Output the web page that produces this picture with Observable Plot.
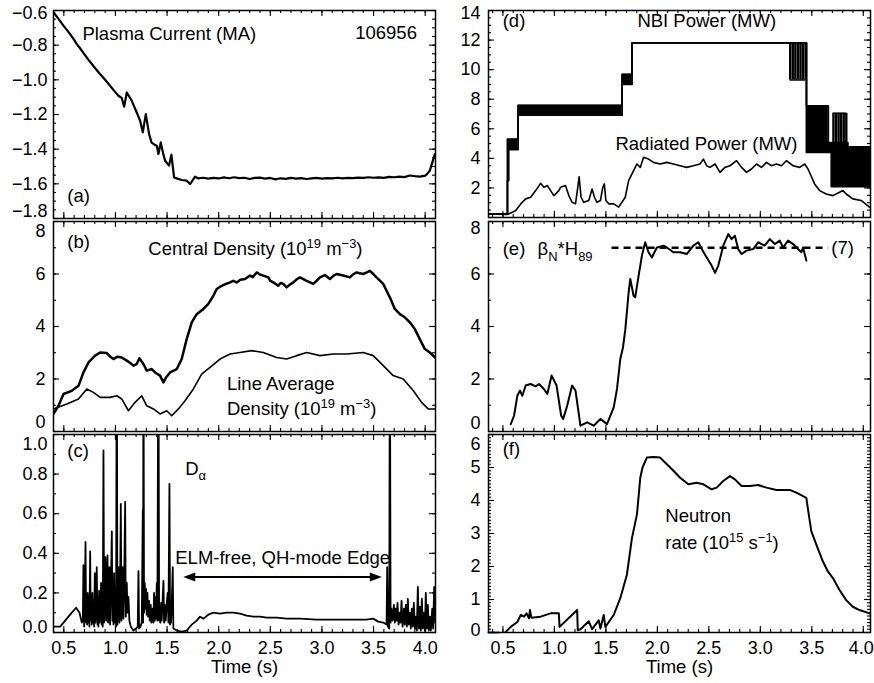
<!DOCTYPE html>
<html><head><meta charset="utf-8">
<script src="https://cdn.jsdelivr.net/npm/d3@7"></script>
<script src="https://cdn.jsdelivr.net/npm/@observablehq/plot@0.6"></script>
<style>
html,body{margin:0;padding:0;background:#fff;}
#fig{position:relative;width:874px;height:683px;background:#fff;}
#fig svg{position:absolute;left:0;top:0;}
</style></head><body><div id="fig"></div>
<script>
// ---------------- DATA ----------------
// (a) plasma current (MA)
const ipT = [0.40,0.45,0.50,0.55,0.60,0.626,0.65,0.70,0.75,0.80,0.85,0.90,0.948,0.99,1.029,1.061,1.084,1.110,1.158,1.20,1.239,1.265,1.294,1.326,1.35,1.368,1.40,1.416,1.439,1.46,1.481,1.519,1.542,1.568,1.60,1.642,1.69,1.723,1.771,1.80,1.85,1.90,1.95,2.00,2.05,2.10,2.15,2.20,2.25,2.30,2.35,2.40,2.45,2.50,2.55,2.60,2.65,2.70,2.75,2.80,2.85,2.90,2.95,3.00,3.05,3.10,3.15,3.20,3.25,3.30,3.35,3.40,3.45,3.50,3.55,3.60,3.65,3.70,3.75,3.80,3.85,3.90,3.95,4.00,4.013,4.045,4.094];
const ipV = [-0.610,-0.650,-0.690,-0.728,-0.770,-0.794,-0.812,-0.853,-0.893,-0.930,-0.966,-1.000,-1.034,-1.065,-1.092,-1.105,-1.155,-1.073,-1.121,-1.180,-1.236,-1.303,-1.198,-1.313,-1.362,-1.370,-1.380,-1.428,-1.361,-1.420,-1.467,-1.495,-1.432,-1.563,-1.570,-1.578,-1.582,-1.601,-1.559,-1.568,-1.565,-1.570,-1.566,-1.569,-1.563,-1.568,-1.562,-1.567,-1.565,-1.572,-1.566,-1.564,-1.570,-1.566,-1.574,-1.568,-1.571,-1.566,-1.570,-1.567,-1.572,-1.568,-1.566,-1.570,-1.567,-1.569,-1.565,-1.568,-1.566,-1.567,-1.564,-1.566,-1.562,-1.565,-1.563,-1.566,-1.560,-1.562,-1.558,-1.561,-1.552,-1.556,-1.558,-1.553,-1.547,-1.524,-1.428];

// (b) central density and line average density (1e19 m^-3)
const neT = [0.40,0.448,0.497,0.577,0.642,0.69,0.739,0.803,0.852,0.916,0.95,0.981,1.02,1.061,1.11,1.14,1.174,1.206,1.232,1.271,1.303,1.352,1.384,1.432,1.465,1.49,1.529,1.594,1.642,1.69,1.739,1.787,1.852,1.90,1.948,1.981,2.029,2.07,2.11,2.14,2.174,2.21,2.255,2.303,2.33,2.368,2.40,2.432,2.481,2.50,2.529,2.577,2.60,2.626,2.658,2.69,2.723,2.757,2.787,2.852,2.916,2.95,2.981,3.029,3.077,3.11,3.142,3.206,3.271,3.30,3.335,3.40,3.43,3.465,3.497,3.529,3.594,3.658,3.706,3.755,3.803,3.852,3.90,3.948,3.997,4.045,4.094];
const neV = [0.67,0.98,1.43,1.55,1.74,2.25,2.63,2.89,3.01,2.99,2.85,2.76,2.85,2.82,2.70,2.62,2.51,2.57,2.79,2.57,2.32,2.38,2.25,2.13,1.87,2.06,2.25,2.38,2.76,3.52,4.16,4.47,4.67,4.86,5.17,5.43,5.55,5.62,5.68,5.74,5.68,5.78,5.81,5.94,5.88,6.06,5.98,5.94,5.87,5.74,5.68,5.55,5.66,5.62,5.49,5.60,5.68,5.80,5.87,5.74,5.62,5.75,5.87,5.96,5.81,5.93,6.00,5.94,5.87,5.98,6.06,6.00,6.05,6.12,6.00,5.87,5.62,5.11,4.67,4.47,4.35,4.16,3.90,3.52,3.14,3.01,2.82];
const nlT = [0.40,0.529,0.642,0.723,0.787,0.852,0.948,1.013,1.061,1.126,1.19,1.255,1.303,1.368,1.432,1.497,1.545,1.61,1.674,1.755,1.835,1.916,2.013,2.11,2.206,2.319,2.432,2.561,2.658,2.755,2.852,2.981,3.11,3.239,3.40,3.497,3.594,3.69,3.787,3.884,3.965,4.029,4.094];
const nlV = [0.86,1.05,1.24,1.62,1.49,1.30,1.30,1.36,1.24,0.79,1.11,1.36,0.98,0.86,0.67,0.79,0.60,0.86,1.17,1.62,2.19,2.44,2.76,2.95,3.01,3.08,3.01,2.82,2.76,2.89,3.01,2.89,2.95,2.95,3.01,2.89,2.51,2.13,2.00,1.56,1.11,0.86,0.86];

// (c) D-alpha (a.u.), spikes above 1.0 are off scale
const daT = [0.40,0.465,0.529,0.577,0.619,0.652,0.674,0.684,0.690,0.697,0.703,0.710,0.716,0.723,0.726,0.732,0.739,0.745,0.748,0.755,0.761,0.768,0.771,0.777,0.784,0.790,0.794,0.800,0.806,0.813,0.819,0.826,0.832,0.835,0.842,0.848,0.855,0.861,0.868,0.874,0.877,0.884,0.890,0.897,0.903,0.910,0.916,0.923,0.929,0.935,0.942,0.948,0.955,0.965,0.971,0.977,0.981,0.987,0.994,1.000,1.006,1.013,1.019,1.026,1.032,1.039,1.045,1.052,1.058,1.065,1.071,1.077,1.084,1.094,1.100,1.110,1.116,1.126,1.135,1.148,1.174,1.200,1.216,1.223,1.229,1.242,1.255,1.265,1.268,1.271,1.277,1.284,1.290,1.297,1.303,1.310,1.316,1.326,1.332,1.342,1.348,1.358,1.368,1.374,1.381,1.390,1.394,1.400,1.406,1.416,1.423,1.429,1.435,1.442,1.448,1.458,1.465,1.471,1.477,1.487,1.497,1.506,1.513,1.523,1.529,1.535,1.539,1.548,1.555,1.561,1.594,1.642,1.690,1.739,1.787,1.819,1.852,1.900,1.948,2.013,2.077,2.142,2.206,2.271,2.335,2.400,2.465,2.561,2.658,2.787,2.948,3.110,3.271,3.432,3.497,3.545,3.594,3.626,3.632,3.639,3.652,3.658,3.665,3.674,3.684,3.697,3.706,3.716,3.723,3.732,3.742,3.752,3.761,3.771,3.781,3.794,3.803,3.813,3.823,3.832,3.842,3.852,3.861,3.871,3.881,3.890,3.900,3.910,3.919,3.929,3.939,3.948,3.958,3.968,3.977,3.987,3.997,4.006,4.016,4.026,4.035,4.045,4.055,4.068,4.077,4.087,4.094];
const daV = [0.03,0.03,0.07,0.10,0.125,0.10,0.05,0.06,0.34,0.03,0.15,0.457,0.05,0.18,0.04,0.20,0.05,0.15,0.03,0.41,0.06,0.18,0.04,0.20,0.05,0.14,0.03,0.30,0.05,0.16,0.33,0.04,0.18,0.03,0.21,0.05,0.15,0.25,0.04,0.12,0.03,0.92,0.05,0.20,0.38,0.06,0.22,0.39,0.05,0.17,0.33,0.04,0.20,0.51,0.06,0.22,0.04,0.30,0.05,0.18,0.03,1.6,0.04,0.20,0.33,0.05,0.22,0.65,0.06,0.25,0.33,0.07,0.22,0.66,0.08,0.25,0.10,0.18,0.06,0.03,0.01,0.02,0.03,0.31,0.02,0.03,0.05,0.62,0.05,1.6,0.10,0.25,0.12,0.22,0.09,0.20,0.08,0.16,0.06,0.14,0.05,0.12,0.05,0.20,0.06,0.18,0.07,0.25,0.06,1.6,0.06,0.12,0.05,0.15,0.06,0.18,0.26,0.05,0.14,0.06,0.15,0.20,0.05,0.75,0.04,0.12,0.05,0.20,0.33,0.02,0.01,0.005,0.01,0.04,0.06,0.08,0.07,0.09,0.10,0.095,0.10,0.10,0.095,0.085,0.08,0.08,0.075,0.075,0.07,0.07,0.065,0.065,0.065,0.065,0.07,0.055,0.05,0.04,0.33,0.03,0.02,1.6,0.05,0.12,0.06,0.14,0.05,0.12,0.06,0.15,0.04,0.10,0.05,0.16,0.03,0.12,0.04,0.14,0.03,0.17,0.04,0.10,0.02,0.12,0.03,0.15,0.02,0.08,0.01,0.23,0.02,0.13,0.01,0.17,0.02,0.10,0.01,0.20,0.02,0.14,0.01,0.08,0.01,0.12,0.02,0.23,0.05];
const elmSpan = [1.657, 3.58];

// (d) NBI power (MW): modulated blocks (low/high envelope), and radiated power
const nbiT  = [0.36,0.544,0.556,0.647,1.657,1.754,3.448,3.66,3.69,3.85,4.07];
const nbiHi = [0.25,5.30,5.30,7.59,9.68,11.81,7.55,5.07,5.07,4.78,4.78];
const nbiLo = [0.25,2.50,4.60,6.92,9.00,11.81,4.40,4.40,2.09,2.09,2.09];
const nbiMod1T = [3.29,3.315,3.34,3.365,3.39,3.415,3.44];
const nbiMod1 = [9.3, 11.81];
const nbiMod2T = [3.71,3.735,3.76,3.785,3.81,3.835];
const nbiMod2 = [5.07, 7.05];
const prT = [0.366,0.45,0.543,0.592,0.624,0.673,0.721,0.769,0.818,0.866,0.898,0.931,0.963,0.995,1.043,1.060,1.108,1.140,1.172,1.205,1.227,1.24,1.259,1.285,1.334,1.366,1.389,1.414,1.447,1.47,1.485,1.50,1.53,1.576,1.624,1.656,1.688,1.721,1.769,1.802,1.834,1.866,1.914,1.963,2.027,2.092,2.156,2.221,2.285,2.350,2.414,2.447,2.479,2.511,2.560,2.608,2.656,2.705,2.769,2.818,2.866,2.914,2.963,3.011,3.060,3.108,3.156,3.205,3.253,3.318,3.382,3.431,3.463,3.527,3.576,3.640,3.705,3.769,3.802,3.834,3.898,3.979,4.060];
const prV = [0.25,0.22,0.20,0.36,0.47,0.92,1.26,1.37,1.82,2.31,2.04,2.16,1.82,1.48,1.82,2.04,2.16,1.48,1.03,0.92,2.04,2.76,1.37,1.03,1.15,1.93,1.37,1.03,1.15,2.04,2.27,1.15,0.92,0.92,0.70,1.03,1.37,2.49,3.17,3.62,3.39,4.07,3.95,3.73,3.62,3.73,3.62,3.50,3.39,3.50,3.62,3.95,3.50,3.39,3.62,3.05,3.39,3.50,3.84,3.39,3.05,3.28,3.62,3.39,3.73,3.50,3.62,3.50,3.84,3.50,3.39,3.62,3.28,2.27,1.82,1.59,1.48,1.71,1.82,1.59,1.26,1.15,0.70];

// (e) beta_N * H89
const bhT = [0.576,0.608,0.640,0.666,0.689,0.721,0.769,0.818,0.850,0.898,0.931,0.973,1.021,1.066,1.085,1.124,1.172,1.205,1.253,1.318,1.382,1.447,1.511,1.576,1.608,1.640,1.666,1.689,1.721,1.737,1.769,1.785,1.818,1.850,1.882,1.914,1.947,1.995,2.060,2.092,2.156,2.221,2.285,2.350,2.398,2.431,2.479,2.527,2.560,2.592,2.640,2.689,2.721,2.753,2.785,2.818,2.866,2.931,2.979,3.043,3.092,3.140,3.189,3.221,3.269,3.318,3.366,3.398,3.415,3.447];
const bhV = [0.28,0.60,1.36,1.56,1.36,1.75,1.81,1.72,1.81,1.62,1.43,2.13,1.75,0.60,0.48,0.98,1.75,1.56,0.22,0.35,0.22,0.48,0.28,0.92,1.62,2.76,3.20,3.90,5.30,5.81,5.17,5.11,5.94,6.70,7.21,6.83,6.63,7.01,7.08,7.01,6.83,6.83,6.76,7.08,7.21,6.95,6.63,6.32,6.04,6.32,7.08,7.52,7.33,7.46,6.95,6.76,6.89,6.95,7.21,7.08,7.33,7.14,7.27,7.01,7.27,7.14,6.95,6.83,7.01,6.51];
const bhRef = 7;
const bhRefSpan = [1.56, 3.66];

// (f) neutron rate (1e15 /s)
const snT = [0.527,0.576,0.640,0.673,0.705,0.73,0.753,0.763,0.776,0.866,0.963,1.043,1.050,1.221,1.227,1.253,1.334,1.366,1.43,1.447,1.479,1.495,1.576,1.640,1.704,1.753,1.802,1.834,1.856,1.898,1.963,2.027,2.092,2.156,2.221,2.301,2.382,2.447,2.527,2.576,2.640,2.705,2.753,2.818,2.898,2.979,3.060,3.156,3.285,3.350,3.415,3.447,3.463,3.495,3.544,3.608,3.656,3.705,3.769,3.834,3.898,3.963,4.060];
const snV = [0.02,0.17,0.32,0.53,0.48,0.58,0.43,0.68,0.45,0.48,0.58,0.58,0.17,0.68,0.07,0.10,0.34,0.10,0.37,0.12,0.53,0.17,0.53,1.04,1.75,2.86,3.58,4.69,5.00,5.30,5.32,5.30,5.10,4.90,4.69,4.49,4.54,4.49,4.34,4.39,4.59,4.74,4.64,4.44,4.44,4.47,4.39,4.32,4.32,4.24,4.13,4.08,3.73,3.07,2.66,2.15,1.85,1.65,1.29,0.98,0.78,0.68,0.58];
const snPreT = [0.36,0.46];
const snPreV = [0,0];

// ticks
const xMajor = [0.5,1.0,1.5,2.0,2.5,3.0,3.5,4.0];
const xMinor = d3.range(4, 41).map(d => d / 10);
const aLabels = [-1.8,-1.6,-1.4,-1.2,-1.0,-0.8,-0.6];
const bLabels = [0,2,4,6,8];
const cLabels = [0.0,0.2,0.4,0.6,0.8,1.0];
const dLabels = [2,4,6,8,10,12,14];
const eLabels = [0,2,4,6,8];
const fLabels = [0,1,2,3,4,5,6];

// ---------------- DRAWING ----------------
const W = 874, H = 683;
const FONT = "'Liberation Sans', Arial, Helvetica, sans-serif";
const FS = 18.5;
const TFS = 18;
const fig = document.getElementById("fig");
const style = {fontFamily: FONT, fontSize: TFS + "px", background: "transparent", overflow: "visible", color: "black"};
const zip = (T, V) => T.map((t, i) => ({t, v: V[i]}));
const F1 = d3.format(".1f");

function richify(svg) {
  const NS = "http://www.w3.org/2000/svg";
  svg.querySelectorAll("text").forEach(t => {
    const s = t.textContent;
    if (!/[\^_]\{/.test(s)) return;
    while (t.firstChild) t.removeChild(t.firstChild);
    const fs = FS;
    let cur = 0;
    const add = (str, shift, small) => {
      const sp = document.createElementNS(NS, "tspan");
      sp.textContent = str;
      sp.setAttribute("dy", (shift - cur) + "px");
      if (small) sp.setAttribute("font-size", (fs * 0.7) + "px");
      cur = shift;
      t.appendChild(sp);
    };
    const re = /([\^_])\{([^}]*)\}/g; let last = 0, m;
    while ((m = re.exec(s))) {
      if (m.index > last) add(s.slice(last, m.index), 0, false);
      add(m[2], m[1] === "^" ? -fs * 0.38 : fs * 0.3, true);
      last = re.lastIndex;
    }
    if (last < s.length) add(s.slice(last), 0, false);
  });
}

function label(str, x, y, anchor = "start") {
  return Plot.text([str], {x, y, text: d => d, textAnchor: anchor, fontSize: FS, fill: "black"});
}

function panel(o) {
  const fh = o.bottom - o.top, fw = o.right - o.left;
  const TM = 6, Tm = 3;
  const tk = {stroke: "black", strokeWidth: 1.1};
  const ticks = [];
  for (const [arr, len] of [[xMinor, Tm], [xMajor, TM]]) {
    ticks.push(Plot.tickX(arr, {x: d => d, insetTop: fh - len, ...tk}));
    ticks.push(Plot.tickX(arr, {x: d => d, insetBottom: fh - len, ...tk}));
  }
  for (const [arr, len] of [[o.yMinor, Tm], [o.yLabels, TM]]) {
    ticks.push(Plot.tickY(arr, {y: d => d, insetRight: fw - len, ...tk}));
    ticks.push(Plot.tickY(arr, {y: d => d, insetLeft: fw - len, ...tk}));
  }
  const L = o.yLabels, n = L.length;
  const ax = (vals, dy) => Plot.text(vals, {y: d => d, frameAnchor: "left", dx: -o.pad, dy, textAnchor: "end", lineAnchor: "middle", text: o.fmt, fontSize: TFS, fill: "black"});
  const axes = [ax(L.slice(1, n - 1), 0), ax([L[0]], o.dyBottom || 0), ax([L[n - 1]], o.dyTop || 0)];
  if (o.xAxis) {
    const xl = (vals, dx) => Plot.text(vals, {x: d => d, frameAnchor: "bottom", dy: 16, dx, lineAnchor: "middle", text: F1, fontSize: TFS, fill: "black"});
    axes.push(xl(xMajor.slice(0, -1), 0), xl(xMajor.slice(-1), o.lastDx || 0));
    axes.push(Plot.text(["Time (s)"], {frameAnchor: "bottom", dy: 35, lineAnchor: "middle", text: d => d, fontSize: FS, fill: "black"}));
  }
  const svg = Plot.plot({
    width: W, height: H,
    marginLeft: o.left, marginRight: W - o.right, marginTop: o.top, marginBottom: H - o.bottom,
    x: {domain: o.xDomain, axis: null},
    y: {domain: o.yDomain, axis: null},
    style,
    marks: [...o.marks, ...ticks, ...axes, Plot.frame({stroke: "black", strokeWidth: 1.5})]
  });
  richify(svg);
  fig.append(svg);
}

const LX = [0.4, 4.1], RX = [0.36, 4.07];
const arrowHead = {draw(ctx) { ctx.moveTo(0, 0); ctx.lineTo(-12, -4.5); ctx.lineTo(-12, 4.5); ctx.closePath(); }};

// (a)
panel({left: 53, right: 435, top: 10, bottom: 218, xDomain: LX, yDomain: [-1.8, -0.6],
  yLabels: aLabels, yMinor: d3.range(-36, -11).map(d => d / 20), fmt: F1, pad: 6, dyTop: 3, dyBottom: -7,
  marks: [
    Plot.line(zip(ipT, ipV), {x: "t", y: "v", stroke: "black", strokeWidth: 2.2, clip: true}),
    label("Plasma Current (MA)", 0.68, -0.735),
    label("106956", 3.92, -0.73, "end"),
    label("(a)", 0.533, -1.668)
  ]});

// (b)
panel({left: 53, right: 435, top: 221, bottom: 431, xDomain: LX, yDomain: [0, 8],
  yLabels: bLabels, yMinor: d3.range(0, 9), fmt: d3.format("d"), pad: 8, dyTop: 10, dyBottom: -9,
  marks: [
    Plot.line(zip(neT, neV), {x: "t", y: "v", stroke: "black", strokeWidth: 2.5, clip: true}),
    Plot.line(zip(nlT, nlV), {x: "t", y: "v", stroke: "black", strokeWidth: 1.6, clip: true}),
    label("(b)", 0.533, 7.2),
    label("Central Density (10^{19} m^{\u22123})", 1.318, 6.95),
    label("Line Average", 2.08, 1.81),
    label("Density (10^{19} m^{\u22123})", 2.08, 0.86)
  ]});

// (c)
panel({left: 53, right: 435, top: 434, bottom: 632, xDomain: LX, yDomain: [0, 1],
  yLabels: cLabels, yMinor: d3.range(0, 11).map(d => d / 10), fmt: F1, pad: 6, dyTop: 10, dyBottom: -5,
  xAxis: true,
  marks: [
    Plot.line(zip(daT, daV), {x: "t", y: "v", stroke: "black", strokeWidth: 1.8, clip: true}),
    Plot.ruleY([0.28], {x1: elmSpan[0] + 0.08, x2: elmSpan[1] - 0.08, stroke: "black", strokeWidth: 2}),
    Plot.dot([elmSpan[1]], {x: d => d, y: 0.28, symbol: arrowHead, r: 5, fill: "black", stroke: "none"}),
    Plot.dot([elmSpan[0]], {x: d => d, y: 0.28, symbol: arrowHead, r: 5, rotate: 180, fill: "black", stroke: "none"}),
    label("ELM-free, QH-mode Edge", 2.62, 0.376, "middle"),
    label("D_{\u03b1}", 1.675, 0.827),
    label("(c)", 0.533, 0.917)
  ]});

// (d)
panel({left: 488, right: 870, top: 10, bottom: 217, xDomain: RX, yDomain: [0, 14],
  yLabels: dLabels, yMinor: d3.range(0, 29).map(d => d / 2), fmt: d3.format("d"), pad: 8, dyTop: 3, dyBottom: 0,
  marks: [
    Plot.areaY(nbiT.map((t, i) => ({t, lo: nbiLo[i], hi: nbiHi[i]})), {x: "t", y1: "lo", y2: "hi", curve: "step-after", fill: "black", clip: true}),
    Plot.line(zip(nbiT, nbiHi), {x: "t", y: "v", curve: "step-after", stroke: "black", strokeWidth: 1.8, clip: true}),
    Plot.line(zip(nbiT, nbiLo), {x: "t", y: "v", curve: "step-after", stroke: "black", strokeWidth: 1.8, clip: true}),
    Plot.ruleX(nbiMod1T, {x: d => d, y1: nbiMod1[0], y2: nbiMod1[1], stroke: "black", strokeWidth: 2.4}),
    Plot.ruleY([nbiMod1[0]], {x1: nbiMod1T[0], x2: nbiMod1T[nbiMod1T.length - 1], stroke: "black", strokeWidth: 1.5}),
    Plot.ruleX(nbiMod2T, {x: d => d, y1: nbiMod2[0], y2: nbiMod2[1], stroke: "black", strokeWidth: 2.4}),
    Plot.ruleY([nbiMod2[1]], {x1: nbiMod2T[0], x2: nbiMod2T[nbiMod2T.length - 1], stroke: "black", strokeWidth: 1.5}),
    Plot.line(zip(prT, prV), {x: "t", y: "v", stroke: "black", strokeWidth: 1.6, clip: true}),
    label("(d)", 0.498, 13.27),
    label("NBI Power (MW)", 1.806, 13.27),
    label("Radiated Power (MW)", 1.593, 4.97)
  ]});

// (e)
panel({left: 488, right: 870, top: 221, bottom: 431, xDomain: RX, yDomain: [0, 8],
  yLabels: eLabels, yMinor: d3.range(0, 9), fmt: d3.format("d"), pad: 8, dyTop: 7, dyBottom: -8,
  marks: [
    Plot.ruleY([bhRef], {x1: bhRefSpan[0], x2: bhRefSpan[1], stroke: "black", strokeWidth: 2.5, strokeDasharray: "7,5"}),
    Plot.line(zip(bhT, bhV), {x: "t", y: "v", stroke: "black", strokeWidth: 2, clip: true}),
    label("(e)", 0.498, 6.95),
    label("\u03b2_{N}*H_{89}", 0.837, 6.95),
    label("(7)", 3.69, 7.0)
  ]});

// (f)
panel({left: 488, right: 870, top: 434, bottom: 632, xDomain: RX, yDomain: [0, 6],
  yLabels: fLabels, yMinor: d3.range(0, 61).map(d => d / 10), fmt: d3.format("d"), pad: 8, dyTop: 10, dyBottom: -2,
  xAxis: true, lastDx: -2,
  marks: [
    Plot.line(zip(snPreT, snPreV), {x: "t", y: "v", stroke: "#3b3bb0", strokeWidth: 2}),
    Plot.line(zip(snT, snV), {x: "t", y: "v", stroke: "black", strokeWidth: 2, clip: true}),
    label("(f)", 0.498, 5.56),
    label("Neutron", 2.077, 3.52),
    label("rate (10^{15} s^{\u22121})", 2.077, 2.71)
  ]});
</script>
</body></html>
